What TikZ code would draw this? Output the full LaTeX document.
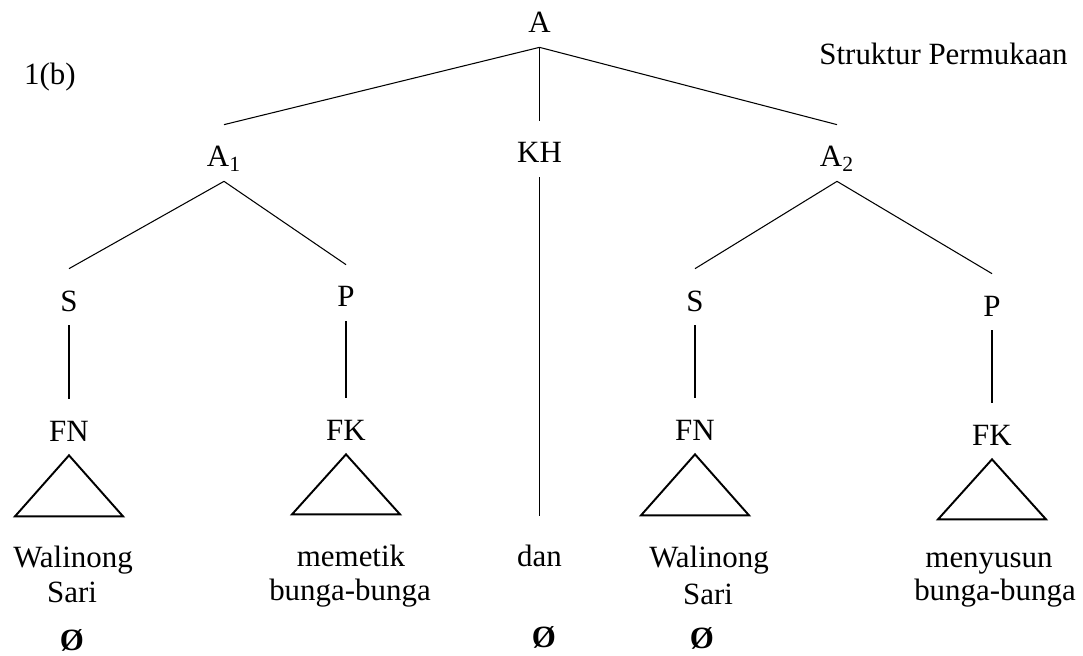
\documentclass[tikz,border=0pt]{standalone}
\usepackage{fontspec}
\setmainfont{Liberation Serif}
\begin{document}
\begin{tikzpicture}[x=1cm,y=1cm,
  every node/.style={font=\fontsize{17.6}{20}\selectfont, inner sep=0pt},
  cat/.style={anchor=base, text height=0.84cm, text depth=0.28cm},
  word/.style={anchor=base},
  branch/.style={line width=0.6pt},
  tri/.style={line width=1.1pt, line join=miter}]
  \useasboundingbox (0,0) rectangle (21.66,13.1);
  \node[word] (fig) at (1.0,11.4) {1(b)};
  \node[word, anchor=base east] (level) at (21.36,11.8) {Struktur Permukaan};
  \node[cat] (A) at (10.79,12.44) {A};
  \node[cat] (A1) at (4.48,9.76) {A\textsubscript{1}};
  \node[cat] (KH) at (10.79,9.84) {KH};
  \node[cat] (A2) at (16.74,9.76) {A\textsubscript{2}};
  \node[cat] (S1) at (1.38,6.88) {S};
  \node[cat] (P1) at (6.92,6.96) {P};
  \node[cat] (S2) at (13.9,6.88) {S};
  \node[cat] (P2) at (19.84,6.78) {P};
  \node[cat] (FN1) at (1.38,4.28) {FN};
  \node[cat] (FK1) at (6.92,4.30) {FK};
  \node[cat] (FN2) at (13.9,4.30) {FN};
  \node[cat] (FK2) at (19.84,4.20) {FK};
  \node[word] (walinong1) at (1.46,1.76) {Walinong};
  \node[word] (sari1) at (1.44,1.06) {Sari};
  \node[word] (null1) at (1.44,0.10) {\textbf{Ø}};
  \node[word] (memetik) at (7.02,1.78) {memetik};
  \node[word] (bunga1) at (7.0,1.10) {bunga-bunga};
  \node[word, text height=1cm] (dan) at (10.79,1.78) {dan};
  \node[word] (nullKH) at (10.88,0.16) {\textbf{Ø}};
  \node[word] (walinong2) at (14.18,1.76) {Walinong};
  \node[word] (sari2) at (14.16,1.02) {Sari};
  \node[word] (null2) at (14.04,0.14) {\textbf{Ø}};
  \node[word] (menyusun) at (19.78,1.76) {menyusun};
  \node[word] (bunga2) at (19.9,1.10) {bunga-bunga};
  \draw[branch] (A.south) -- (A1.north);
  \draw[branch] (A.south) -- (KH.north);
  \draw[branch] (A.south) -- (A2.north);
  \draw[branch] (A1.south) -- (S1.north);
  \draw[branch] (A1.south) -- (P1.north);
  \draw[branch] (A2.south) -- (S2.north);
  \draw[branch] (A2.south) -- (P2.north);
  \draw[branch] (KH.south) -- (dan.north);
  \draw[branch] (S1.south) -- (FN1.north);
  \draw[branch] (P1.south) -- (FK1.north);
  \draw[branch] (S2.south) -- (FN2.north);
  \draw[branch] (P2.south) -- (FK2.north);
  \draw[tri] (FN1.south) -- ++(-1.08,-1.22) -- ++(2.16,0) -- cycle;
  \draw[tri] (FK1.south) -- ++(-1.08,-1.20) -- ++(2.16,0) -- cycle;
  \draw[tri] (FN2.south) -- ++(-1.08,-1.22) -- ++(2.16,0) -- cycle;
  \draw[tri] (FK2.south) -- ++(-1.08,-1.20) -- ++(2.16,0) -- cycle;
\end{tikzpicture}
\end{document}
